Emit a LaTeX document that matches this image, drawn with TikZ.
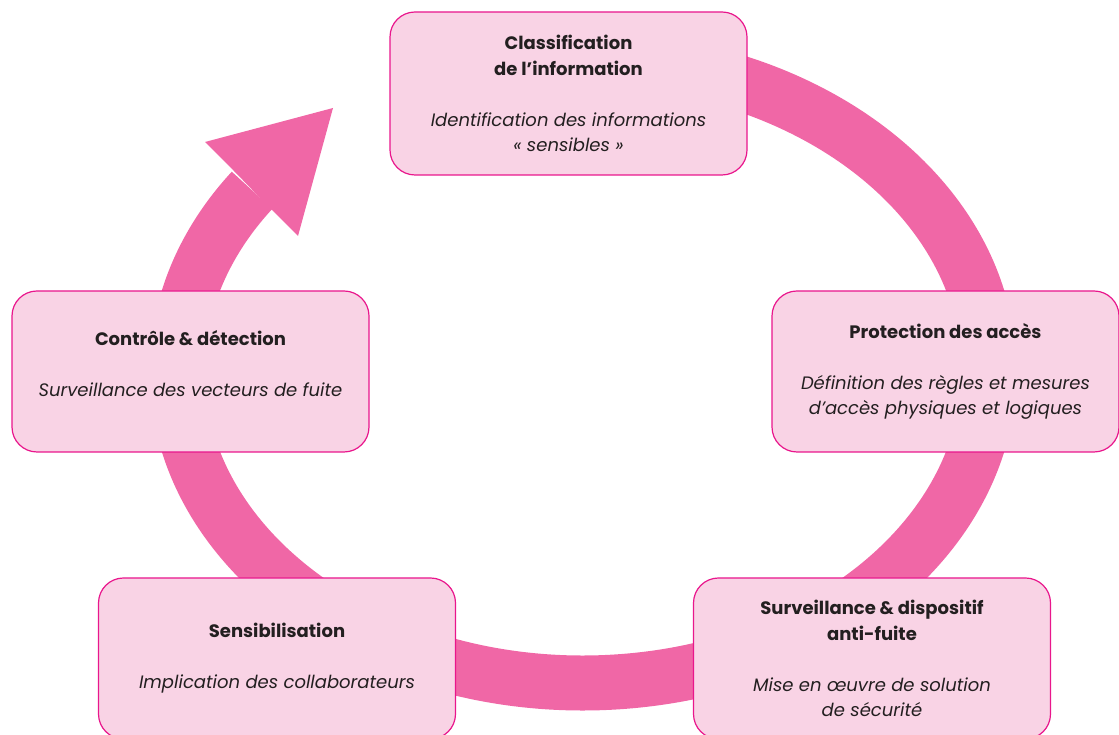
\documentclass[tikz,border=0pt]{standalone}
\usepackage{fontspec}
\setmainfont{Poppins}
\usepackage{tikz}
\usetikzlibrary{calc}
\usetikzlibrary{positioning}
\definecolor{ringpink}{HTML}{F067A6}
\definecolor{boxpink}{HTML}{F9D3E5}
\definecolor{boxedge}{HTML}{E9168C}
\definecolor{textgray}{HTML}{231F20}
\tikzstyle{stage} = [draw=boxedge, line width=1.2pt, fill=boxpink, rectangle,
    rounded corners=25pt, minimum height=161pt, minimum width=357pt,
    align=center, text=textgray, inner sep=0pt,
    font=\fontsize{18}{25.5}\selectfont]
\tikzstyle{ring} = [draw=ringpink, line width=55pt]

\begin{document}
\begin{tikzpicture}[x=1pt,y=1pt]
    \useasboundingbox (0,0) rectangle (1119,735);
    \clip (0,0) rectangle (1119,735);

    % cycle ring with its arrow head
    \coordinate (ringc) at (583,364);
    \draw[ring] ($(ringc)+(95:406pt and 312pt)$)
        arc[start angle=95, end angle=-215.4, x radius=406pt, y radius=312pt];
    \fill[ringpink] (233,565) -- (205,593) -- (333,627) -- (298,499) -- (270,527) -- cycle;

    % stages
    \node[stage, minimum height=163pt] at (568.5,641.5) (classif)
        {\bfseries Classification\\ \bfseries de l’information\\[25.5pt]
         \itshape Identification des informations\\ \itshape «~sensibles~»};
    \node[stage, minimum width=347pt] at (945.5,363.5) (protection)
        {\bfseries Protection des accès\\[25.5pt]
         \itshape Définition des règles et mesures\\ \itshape d’accès physiques et logiques};
    \node[stage] at (872,76.5) (antifuite)
        {\bfseries Surveillance \& dispositif\\ \bfseries anti-fuite\\[25.5pt]
         \itshape Mise en œuvre de solution\\ \itshape de sécurité};
    \node[stage] at (277,76.5) (sensib)
        {\bfseries Sensibilisation\\[25.5pt]
         \itshape Implication des collaborateurs};
    \node[stage] at (190.5,363.5) (controle)
        {\bfseries Contrôle \& détection\\[25.5pt]
         \itshape Surveillance des vecteurs de fuite\\[-10pt]\mbox{}};
\end{tikzpicture}
\end{document}
